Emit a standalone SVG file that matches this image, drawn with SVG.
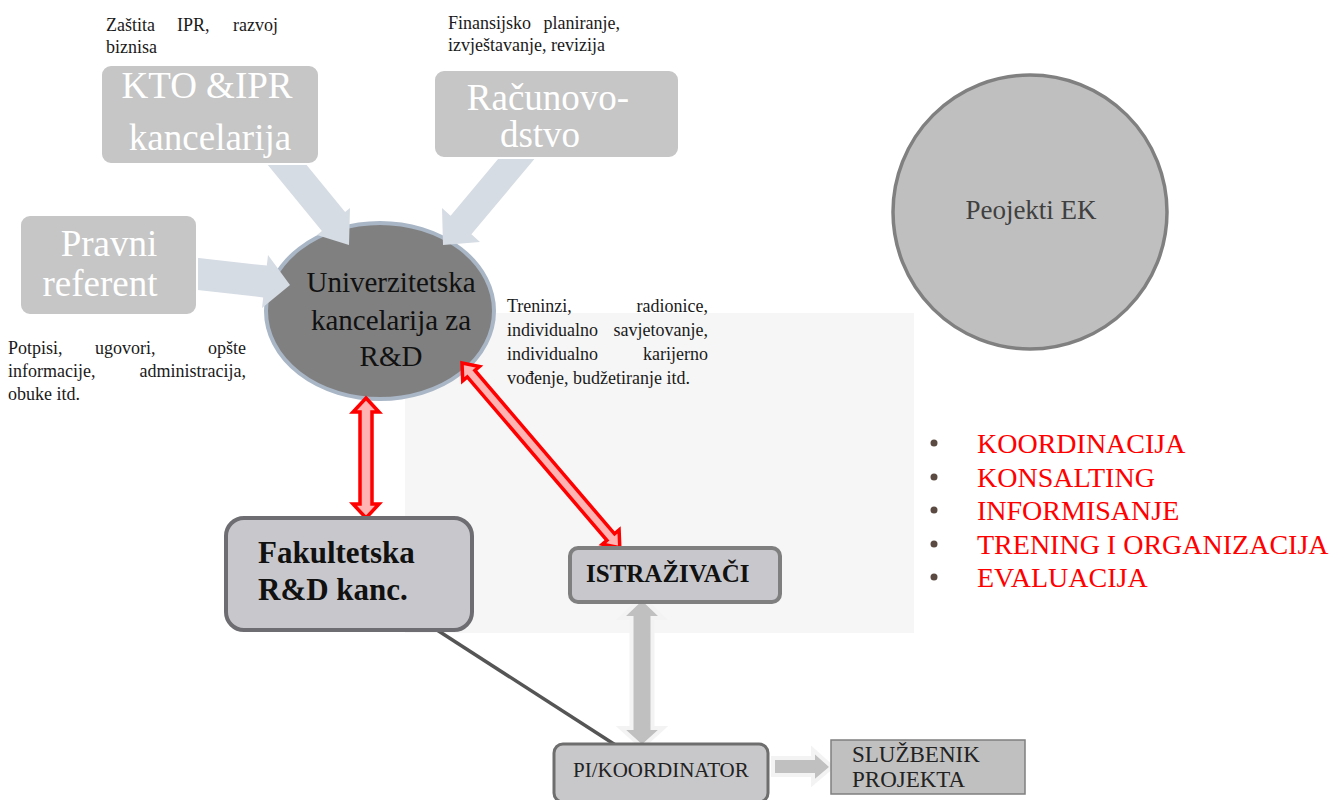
<svg xmlns="http://www.w3.org/2000/svg" width="1332" height="800" viewBox="0 0 1332 800">
<style>
text{font-family:"Liberation Serif","Times New Roman",serif;}
.small{font-size:18px;fill:#1a1a1a;}
.wbox{fill:#c6c6c6;stroke:#ffffff;stroke-width:2;}
.wtxt{font-size:37px;fill:#ffffff;text-anchor:middle;}
.blue{fill:#d6dce4;}
.red{fill:#ffb3b3;stroke:#ff0000;stroke-width:3.5;}
.grey{fill:#c0c0c0;stroke:#f3f3f3;stroke-width:4;}
.bul{font-size:28px;fill:#ff0000;}
.dot{fill:#5a4a42;}
</style>
<rect width="1332" height="800" fill="#ffffff"/>
<rect id="bg-panel" x="405" y="313" width="509" height="320" fill="#f6f6f6"/>

<g id="labels">
<text class="small" x="106" y="31">Zaštita</text>
<text class="small" x="177" y="31">IPR,</text>
<text class="small" x="278" y="31" text-anchor="end">razvoj</text>
<text class="small" x="106" y="53">biznisa</text>
<text class="small" x="448" y="29">Finansijsko</text>
<text class="small" x="620" y="29" text-anchor="end">planiranje,</text>
<text class="small" x="448" y="51">izvještavanje, revizija</text>
<text class="small" x="8" y="354">Potpisi,</text>
<text class="small" x="95" y="354">ugovori,</text>
<text class="small" x="246" y="354" text-anchor="end">opšte</text>
<text class="small" x="8" y="377">informacije,</text>
<text class="small" x="246" y="377" text-anchor="end">administracija,</text>
<text class="small" x="8" y="400">obuke itd.</text>
<text class="small" x="507" y="312">Treninzi,</text>
<text class="small" x="708" y="312" text-anchor="end">radionice,</text>
<text class="small" x="507" y="336">individualno</text>
<text class="small" x="708" y="336" text-anchor="end">savjetovanje,</text>
<text class="small" x="507" y="360">individualno</text>
<text class="small" x="708" y="360" text-anchor="end">karijerno</text>
<text class="small" x="507" y="384">vođenje, budžetiranje itd.</text>
</g>

<g id="node-ured">
<ellipse cx="380" cy="311" rx="114" ry="88" fill="#808080" stroke="#a9b6c6" stroke-width="4"/>
<text x="391" y="292" font-size="29" text-anchor="middle" fill="#111">Univerzitetska</text>
<text x="391" y="330" font-size="29" text-anchor="middle" fill="#111">kancelarija za</text>
<text x="391" y="366" font-size="29" text-anchor="middle" fill="#111">R&amp;D</text>
</g>

<g id="connectors">
<polygon class="blue" points="284.9,138.4 345.1,212 350,208 349,245 317,235 321.9,231 261.7,157.4"/>
<polygon class="blue" points="519.5,133.3 540.3,151.9 471.4,234.3 480,242 443,245 442,208 450.6,215.7"/>
<polygon class="blue" points="192.2,257.2 266.8,265.6 268,255 290,285 262,308 263.2,297.4 188.6,289"/>
<polygon class="red" points="366,398 379,412 372,412 372,504 379,504 366,518 353,504 360,504 360,412 353,412"/>
<polygon class="red" transform="translate(462,363) rotate(49.5)" points="0,0 14,-11 14,-5 229,-5 229,-11 243,0 229,11 229,5 14,5 14,11"/>
<line x1="437" y1="630" x2="617" y2="746" stroke="#555555" stroke-width="3.5"/>
<polygon class="grey" points="642,598 663,618 652.5,618 652.5,728 663,728 642,747 621,728 631.5,728 631.5,618 621,618"/>
<polygon class="grey" points="773,758 813,758 813,750 832,767 813,783 813,775 773,775"/>
</g>

<g id="node-kto">
<rect class="wbox" x="101" y="65" width="218" height="99" rx="10"/>
<text class="wtxt" x="207" y="98" font-size="39">KTO &amp;IPR</text>
<text class="wtxt" x="210" y="150" font-size="38">kancelarija</text>
</g>

<g id="node-racun">
<rect class="wbox" x="434" y="70" width="245" height="88" rx="10"/>
<text class="wtxt" x="548" y="110">Računovo-</text>
<text class="wtxt" x="540" y="147">dstvo</text>
</g>

<g id="node-pravni">
<rect class="wbox" x="20" y="215" width="177" height="100" rx="10"/>
<text class="wtxt" x="109" y="256" font-size="39">Pravni</text>
<text class="wtxt" x="100" y="296">referent</text>
</g>

<g id="node-fakultet">
<rect x="226" y="518" width="246" height="112" rx="18" fill="#c8c8cc" stroke="#6d6d72" stroke-width="4"/>
<text x="258" y="563" font-size="31" font-weight="bold" fill="#111">Fakultetska</text>
<text x="258" y="600" font-size="31" font-weight="bold" fill="#111">R&amp;D kanc.</text>
</g>

<g id="node-istr">
<rect x="570" y="548" width="210" height="54" rx="8" fill="#c8c8cc" stroke="#7f7f7f" stroke-width="4"/>
<text x="586" y="582" font-size="25" font-weight="bold" fill="#111">ISTRAŽIVAČI</text>
</g>

<g id="node-pi">
<rect x="554" y="744" width="214" height="58" rx="9" fill="#c8c8ca" stroke="#6e6e6e" stroke-width="3"/>
<text x="573" y="777" font-size="21" fill="#222">PI/KOORDINATOR</text>
</g>

<g id="node-sluzbenik">
<rect x="831" y="740" width="194" height="54" fill="#c0c0c0" stroke="#7f7f7f" stroke-width="1.5"/>
<text x="852" y="762" font-size="23" fill="#222">SLUŽBENIK</text>
<text x="852" y="787" font-size="23" fill="#222">PROJEKTA</text>
</g>

<g id="node-ek">
<ellipse cx="1030" cy="212" rx="137" ry="137" fill="#bfbfbf" stroke="#808080" stroke-width="3.5"/>
<text x="1031" y="219" font-size="27" text-anchor="middle" fill="#404040">Peojekti EK</text>
</g>

<g id="list">
<circle class="dot" cx="934" cy="443" r="3.5"/>
<text class="bul" x="977" y="453">KOORDINACIJA</text>
<circle class="dot" cx="934" cy="477" r="3.5"/>
<text class="bul" x="977" y="487">KONSALTING</text>
<circle class="dot" cx="934" cy="510" r="3.5"/>
<text class="bul" x="977" y="520">INFORMISANJE</text>
<circle class="dot" cx="934" cy="544" r="3.5"/>
<text class="bul" x="977" y="554">TRENING I ORGANIZACIJA</text>
<circle class="dot" cx="934" cy="577" r="3.5"/>
<text class="bul" x="977" y="587">EVALUACIJA</text>
</g>
</svg>
